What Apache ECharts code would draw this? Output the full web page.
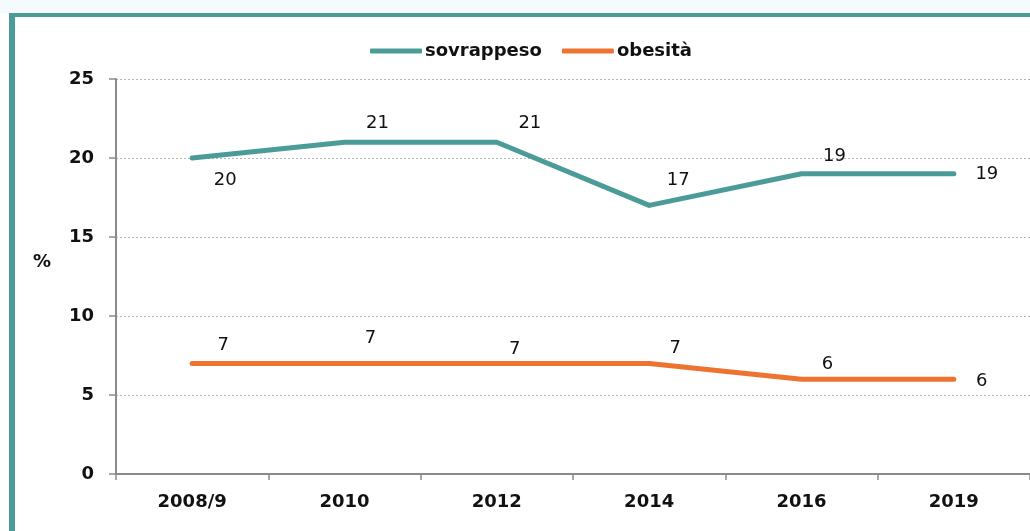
<!DOCTYPE html>
<html>
<head>
<meta charset="utf-8">
<script src="https://cdn.jsdelivr.net/npm/echarts@6/dist/echarts.min.js"></script>
<style>
  html, body { margin: 0; padding: 0; background: #ffffff; }
  #chart { width: 1030px; height: 531px; }
</style>
</head>
<body>
<div id="chart"></div>
<script>
// Anni di rilevazione
const categories = ['2008/9', '2010', '2012', '2014', '2016', '2019'];
// Prevalenza (%)
const sovrappeso = [20, 21, 21, 17, 19, 19];
const obesita = [7, 7, 7, 7, 6, 6];
const yTicks = [0, 5, 10, 15, 20, 25];

// Placement of each value label relative to its point (px)
const sovrOffsets = [[33, 22], [33, -19], [33, -19], [29, -25], [33, -17], [33, 1]];
const obesOffsets = [[31, -18], [26, -25], [18, -14], [26, -15], [26, -15], [28, 2]];

const TEAL = '#4b9c99';
const ORANGE = '#ee7330';
const FONT = '"DejaVu Sans", Verdana, sans-serif';
const SYMBOL = 2;

function withLabels(values, offsets) {
  return values.map((v, i) => ({
    value: v,
    label: {
      position: [SYMBOL / 2 + offsets[i][0], SYMBOL / 2 + offsets[i][1]],
      align: 'center',
      verticalAlign: 'middle'
    }
  }));
}

function lineSeries(name, values, offsets, color) {
  return {
    name: name,
    type: 'line',
    data: withLabels(values, offsets),
    color: color,
    symbol: 'circle',
    symbolSize: SYMBOL,
    showSymbol: true,
    itemStyle: { color: color },
    lineStyle: { width: 5, color: color, cap: 'round', join: 'round' },
    label: {
      show: true,
      align: 'center',
      verticalAlign: 'middle',
      fontFamily: FONT,
      fontSize: 18,
      color: '#111'
    },
    labelLayout: { hideOverlap: false }
  };
}

const chart = echarts.init(document.getElementById('chart'), null, { renderer: 'canvas' });

chart.setOption({
  backgroundColor: '#ffffff',
  animation: false,
  graphic: [
    { type: 'rect', shape: { x: 0, y: 0, width: 1030, height: 13 }, style: { fill: '#f5fbfc' } },
    { type: 'rect', shape: { x: 9, y: 13, width: 1030, height: 4 }, style: { fill: TEAL } },
    { type: 'rect', shape: { x: 9, y: 13, width: 6, height: 530 }, style: { fill: TEAL } },
    {
      type: 'text', x: 42, y: 262,
      style: { text: '%', font: 'bold 18px ' + FONT, fill: '#111', align: 'center', verticalAlign: 'middle' }
    }
  ],
  legend: {
    top: 42,
    left: 370,
    padding: 0,
    itemWidth: 52,
    itemHeight: 5,
    itemGap: 20,
    icon: 'roundRect',
    textStyle: { fontFamily: FONT, fontWeight: 'bold', fontSize: 18, color: '#111', padding: [0, 0, 0, -2] },
    data: ['sovrappeso', 'obesità']
  },
  grid: { left: 116, right: -5, top: 79, bottom: 57, containLabel: false },
  xAxis: {
    type: 'category',
    data: categories,
    boundaryGap: true,
    axisLine: { lineStyle: { color: '#8a8a8a', width: 2 } },
    axisTick: { show: true, length: 6, lineStyle: { color: '#8a8a8a', width: 1.5 } },
    axisLabel: { fontFamily: FONT, fontWeight: 'bold', fontSize: 18, color: '#111', margin: 19 }
  },
  yAxis: {
    type: 'value',
    min: yTicks[0],
    max: yTicks[yTicks.length - 1],
    interval: 5,
    axisLine: { show: true, lineStyle: { color: '#8a8a8a', width: 2 } },
    axisTick: { show: true, length: 7, lineStyle: { color: '#8a8a8a', width: 1.5 } },
    axisLabel: { fontFamily: FONT, fontWeight: 'bold', fontSize: 18, color: '#111', margin: 22 },
    splitLine: { lineStyle: { color: '#b5b5b5', type: [2, 2], width: 1 } }
  },
  series: [
    lineSeries('sovrappeso', sovrappeso, sovrOffsets, TEAL),
    lineSeries('obesità', obesita, obesOffsets, ORANGE)
  ]
});
</script>
</body>
</html>
